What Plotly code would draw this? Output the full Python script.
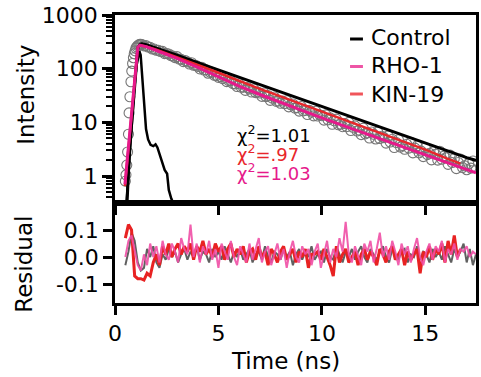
import numpy as np
import plotly.graph_objects as go

# ---------------- data ----------------
# decay data (grey open circles)
rise_t = [0.50, 0.53, 0.57, 0.61, 0.65, 0.68, 0.72, 0.77, 0.81, 0.85, 0.89, 0.93, 0.97, 1.01, 1.05, 1.10, 1.15, 1.20, 1.25]
rise_I = [0.8, 1.05, 1.6, 2.8, 6.0, 15, 30, 57, 90, 125, 160, 190, 215, 240, 255, 268, 278, 283, 285]
decay_start, decay_step = 1.30, 0.10
decay_I = [282, 266, 269, 253, 250, 232, 232,
           220, 220.5, 208.7, 210.2, 191, 191.1, 187.8, 174.8, 171.3, 160.5,
           167.5, 151.2, 148.8, 135, 141.6, 133.8, 122.1, 128.8, 115.6, 115,
           110.3, 98.8, 106, 94.3, 95, 82.3, 85.3, 85.9, 75.4, 74.5,
           68.6, 71.4, 65.3, 69.2, 57.3, 59.7, 59.8, 52.5, 52.1, 46.5,
           52.2, 45, 45.3, 39.4, 44.5, 41.7, 36.7, 41.8, 35.7, 36.7,
           35.2, 30.4, 35.3, 30.1, 31.6, 25.7, 28.2, 29.6, 24.6, 25.0,
           22.7, 24.9, 22.3, 25.2, 19.4, 21.3, 22.0, 18.4, 18.8, 16.2,
           19.7, 16.3, 16.7, 14.0, 16.7, 15.5, 13.2, 16.1, 13.1, 13.8,
           13.3, 11.0, 13.8, 11.1, 12.1, 9.2, 10.7, 11.5, 9.0, 9.3,
           8.3, 9.5, 8.3, 10.0, 7.05, 8.1, 8.6, 6.9, 7.15, 5.9,
           7.8, 6.1, 6.4, 5.1, 6.6, 6.0, 4.9, 6.6, 5.0, 5.5,
           5.2, 4.1, 5.6, 4.3, 4.85, 3.4, 4.2, 4.75, 3.45, 3.7,
           3.15, 3.9, 3.3, 4.25, 2.7, 3.3, 3.65, 2.7, 2.91, 2.3,
           3.35, 2.5, 2.65, 2.0, 2.85, 2.55, 1.98, 2.9, 2.05, 2.35,
           2.2, 1.65, 2.45, 1.78, 2.1, 1.37, 1.78, 2.08, 1.44, 1.55,
           1.31, 1.69, 1.4, 1.9]
data_t = rise_t + [round(decay_start + decay_step * k, 2) for k in range(len(decay_I))]
data_I = rise_I + decay_I

# fitted curves
control_t = [0.58, 0.70, 0.80, 0.90, 1.00, 1.10, 1.20, 1.30, 1.50, 2.0, 3.0, 4.0, 5.0, 6.0, 7.0, 8.0, 9.0,
             10.0, 11.0, 12.0, 13.0, 14.0, 15.0, 16.0, 17.0, 17.45]
control_I = [0.3, 3.0, 9.0, 30, 90, 240, 285, 292, 280, 242, 178, 130, 95, 68, 50, 36.5, 26.7,
             19.5, 14.3, 10.5, 7.7, 5.6, 4.1, 3.0, 2.2, 1.95]
rho_t = [0.48, 0.60, 0.70, 0.80, 0.90, 1.00, 1.10, 1.20, 1.30, 1.50, 2.0, 3.0, 4.0, 5.0, 6.0, 7.0, 8.0, 9.0,
         10.0, 11.0, 12.0, 13.0, 14.0, 15.0, 16.0, 17.0, 17.45]
rho_I = [0.7, 2.3, 5.8, 15, 38, 98, 250, 275, 272, 258, 218, 156, 106, 71, 47.5, 33, 23.5, 16.8,
         12.1, 8.8, 6.4, 4.6, 3.35, 2.45, 1.8, 1.32, 1.15]
kin_t = [0.48, 0.60, 0.70, 0.80, 0.90, 1.00, 1.10, 1.20, 1.30, 1.50, 2.0, 3.0, 4.0, 5.0, 6.0, 7.0, 8.0, 9.0,
         10.0, 11.0, 12.0, 13.0, 14.0, 15.0, 16.0, 16.7]
kin_I = [0.65, 2.1, 5.5, 14.5, 37, 96, 245, 272, 270, 260, 225, 165, 118, 84, 59, 42, 30.5, 22,
         16, 11.6, 8.4, 6.1, 4.35, 3.1, 2.15, 1.7]
# instrument response (narrow black peak)
irf_t = [0.55, 0.62, 0.70, 0.78, 0.86, 0.95, 1.05, 1.12, 1.18, 1.24, 1.30, 1.36, 1.42, 1.50, 1.60, 1.72,
         1.85, 1.96, 2.05, 2.15, 2.25, 2.40, 2.52, 2.60, 2.72, 2.84]
irf_I = [0.3, 0.8, 2.5, 8, 22, 55, 120, 180, 210, 180, 90, 35, 15, 7.5, 4.8, 3.8,
         3.6, 3.9, 3.4, 2.6, 2.0, 1.3, 1.1, 0.55, 0.38, 0.3]

# residuals
res_start, res_step = 0.5, 0.15
res_control = [-0.03, 0.02, 0.09, 0.06, -0.02, -0.05, -0.04, 0.03, 0.00, 0.04,
               -0.02, -0.04, 0.01, -0.01, 0.03, 0.00, 0.02, -0.02, 0.01, 0.03,
               -0.01, 0.02, 0.00, 0.04, -0.01, 0.02, 0.01, -0.02, 0.03, 0.00,
               0.02, -0.01, 0.04, 0.01, -0.02, 0.02, 0.00, 0.03, -0.01, 0.01,
               0.03, -0.02, 0.01, 0.02, -0.01, 0.04, 0.00, -0.02, 0.02, 0.01,
               -0.01, 0.03, 0.00, 0.02, -0.03, 0.01, 0.03, -0.01, 0.02, 0.00,
               0.04, -0.01, 0.01, 0.02, -0.02, 0.03, 0.00, -0.01, 0.04, 0.01,
               -0.02, 0.02, 0.00, 0.03, -0.01, 0.02, 0.04, 0.00, -0.02, 0.03,
               0.01, -0.01, 0.02, 0.04, 0.00, -0.02, 0.03, 0.01, -0.01, 0.02,
               0.03, -0.02, 0.01, 0.00, 0.04, -0.01, 0.02, 0.01, -0.02, 0.03,
               0.00, 0.02, -0.01, 0.04, 0.01, -0.02, 0.03, 0.00, 0.02, 0.05,
               -0.02, 0.03, -0.03, 0.01]
res_rho = [0.00, 0.06, 0.08, 0.03, -0.03, -0.05, 0.01, -0.03, 0.05, 0.00,
           0.04, -0.02, 0.06, 0.01, -0.01, 0.05, 0.02, -0.02, 0.07, 0.03,
           0.01, 0.12, 0.00, 0.05, -0.02, 0.04, 0.01, 0.06, -0.01, 0.03,
           -0.04, 0.05, 0.02, -0.01, 0.06, 0.00, -0.03, 0.04, 0.01, -0.02,
           0.05, -0.01, 0.03, 0.07, -0.02, 0.02, 0.04, -0.03, 0.01, 0.05,
           -0.01, 0.03, -0.04, 0.02, 0.06, 0.00, -0.02, 0.04, 0.01, 0.03,
           -0.03, 0.02, 0.05, -0.04, 0.01, 0.06, -0.02, 0.03, 0.00, 0.07,
           0.02, 0.13, 0.01, -0.02, 0.04, 0.00, -0.03, 0.05, 0.02, 0.06,
           -0.02, 0.03, 0.09, 0.00, 0.04, -0.01, 0.06, 0.02, -0.03, 0.05,
           0.01, 0.04, -0.02, 0.03, 0.07, 0.00, -0.03, 0.02, 0.05, -0.01,
           0.04, 0.02, 0.06, -0.02, 0.03, 0.01, 0.05, -0.01, 0.03, 0.02,
           0.04, 0.00, 0.02, 0.01]
res_kin = [0.07, 0.12, 0.10, -0.07, -0.08, -0.08, -0.085, -0.06, -0.07, -0.02,
           0.01, -0.03, 0.04, 0.01, 0.05, 0.00, 0.03, 0.05, 0.01, 0.04,
           0.02, 0.05, -0.01, 0.04, 0.02, 0.06, 0.01, 0.03, 0.00, 0.05,
           0.02, 0.04, -0.01, 0.03, 0.05, 0.00, 0.03, 0.01, 0.04, -0.02,
           0.02, 0.03, -0.01, 0.04, 0.00, 0.02, -0.03, 0.03, 0.01, -0.02,
           0.02, 0.04, -0.01, 0.01, 0.03, -0.02, 0.02, 0.00, 0.03, -0.04,
           0.01, 0.01, 0.02, -0.01, 0.03, 0.00, -0.03, -0.07, 0.04, -0.02,
           0.01, 0.03, -0.02, 0.00, 0.02, -0.03, 0.01, 0.03, -0.01, 0.02,
           0.00, -0.03, 0.03, 0.01, -0.02, 0.02, 0.04, -0.01, 0.01, 0.03,
           -0.03, 0.02, -0.01, 0.01, 0.03, -0.06, 0.02, 0.00, 0.04, -0.01,
           0.03, 0.01, 0.05, -0.02, 0.06, 0.01, 0.08, 0.00, 0.03]


def res_times(n):
    return [round(res_start + res_step * k, 2) for k in range(n)]


# ---------------- styling ----------------
FONT = "DejaVu Sans"
BLACK = "#000000"
PINK = "#e6198b"
RED = "#e8262b"
GREY = "#767676"

fig = go.Figure()

# top panel
fig.add_trace(go.Scatter(x=data_t, y=data_I, mode="markers", xaxis="x", yaxis="y",
                         marker=dict(symbol="circle-open", size=10, color=GREY, line=dict(width=1.1)),
                         showlegend=False))
fig.add_trace(go.Scatter(x=irf_t, y=irf_I, mode="lines", xaxis="x", yaxis="y",
                         line=dict(color=BLACK, width=2.5), showlegend=False))
fig.add_trace(go.Scatter(x=control_t, y=control_I, mode="lines", xaxis="x", yaxis="y",
                         line=dict(color=BLACK, width=3), name="Control", showlegend=False))
fig.add_trace(go.Scatter(x=kin_t, y=kin_I, mode="lines", xaxis="x", yaxis="y",
                         line=dict(color=RED, width=2.5), name="KIN-19", showlegend=False))
fig.add_trace(go.Scatter(x=rho_t, y=rho_I, mode="lines", xaxis="x", yaxis="y",
                         line=dict(color=PINK, width=3), name="RHO-1", showlegend=False))

# bottom panel
fig.add_trace(go.Scatter(x=res_times(len(res_control)), y=res_control, mode="lines", xaxis="x2", yaxis="y2",
                         line=dict(color="#606060", width=2), showlegend=False))
fig.add_trace(go.Scatter(x=res_times(len(res_kin)), y=res_kin, mode="lines", xaxis="x2", yaxis="y2",
                         line=dict(color="#e82222", width=3), showlegend=False))
fig.add_trace(go.Scatter(x=res_times(len(res_rho)), y=res_rho, mode="lines", xaxis="x2", yaxis="y2",
                         line=dict(color="#f04fa6", width=2), opacity=0.9, showlegend=False))

split = 100 / 288
axis_common = dict(showline=True, linecolor=BLACK, linewidth=2.5, mirror=True, showgrid=False,
                   zeroline=False, ticks="outside", tickcolor=BLACK, tickwidth=2.5,
                   tickfont=dict(family=FONT, size=22, color=BLACK))
x_ticks = [0, 5, 10, 15]

fig.update_layout(
    width=481, height=377,
    margin=dict(l=115, r=2, t=15, b=74),
    paper_bgcolor="white", plot_bgcolor="white",
    font=dict(family=FONT, color=BLACK),
    xaxis=dict(axis_common, range=[0, 17.45], tickvals=x_ticks, showticklabels=False,
               ticklen=9, anchor="y"),
    yaxis=dict(axis_common, type="log", range=[np.log10(0.314), 3], domain=[split, 1],
               tickvals=[1, 10, 100, 1000], ticktext=["1", "10", "100", "1000"], ticklen=10,
               anchor="x",
               minor=dict(ticks="outside", ticklen=6, tickwidth=1.5, tickcolor=BLACK,
                          tickvals=[0.4, 0.5, 0.6, 0.7, 0.8, 0.9,
                                    2, 3, 4, 5, 6, 7, 8, 9,
                                    20, 30, 40, 50, 60, 70, 80, 90,
                                    200, 300, 400, 500, 600, 700, 800, 900])),
    xaxis2=dict(axis_common, range=[0, 17.45], tickvals=x_ticks, ticktext=[str(v) for v in x_ticks],
                ticklen=9, anchor="y2"),
    yaxis2=dict(axis_common, range=[-0.17, 0.2], domain=[0, split], tickvals=[-0.1, 0, 0.1],
                ticktext=["-0.1", "0.0", "0.1"], ticklen=9, anchor="x2"),
)

W, H = 364, 288  # plot area size in px


def px(xp, yp):
    return (xp - 115) / W, (303 - yp) / H


annos = []
# axis titles
for text, (xp, yp), ang in [("Intensity", (25, 95), -90), ("Residual", (23, 264), -90),
                            ("Time (ns)", (286.5, 361), 0)]:
    x, y = px(xp, yp)
    annos.append(dict(text=text, x=x, y=y, xref="paper", yref="paper", showarrow=False,
                      textangle=ang, xanchor="center", yanchor="middle",
                      font=dict(family=FONT, size=23, color=BLACK)))
# chi-square labels
for text, col, yp in [("χ<sup>2</sup>=1.01", BLACK, 134), ("χ<sup>2</sup>=.97", RED, 153),
                      ("χ<sup>2</sup>=1.03", PINK, 172)]:
    x, y = px(236, yp)
    annos.append(dict(text=text, x=x, y=y, xref="paper", yref="paper", showarrow=False,
                      xanchor="left", yanchor="middle", font=dict(family=FONT, size=18, color=col)))
# legend
legend_items = [("Control", BLACK, 37.5, 39), ("RHO-1", "#ee55a6", 65.5, 66.5), ("KIN-19", "#f0555a", 94.5, 94)]
shapes = []
for text, col, ytext, yline in legend_items:
    x, y = px(371, ytext)
    annos.append(dict(text=text, x=x, y=y, xref="paper", yref="paper", showarrow=False,
                      xanchor="left", yanchor="middle", font=dict(family=FONT, size=22, color=BLACK)))
    x0, yl = px(352, yline)
    x1, _ = px(365, yline)
    shapes.append(dict(type="line", xref="paper", yref="paper", x0=x0, x1=x1, y0=yl, y1=yl,
                       line=dict(color=col, width=3)))

fig.update_layout(annotations=annos, shapes=shapes)
fig.write_html("out.html")
